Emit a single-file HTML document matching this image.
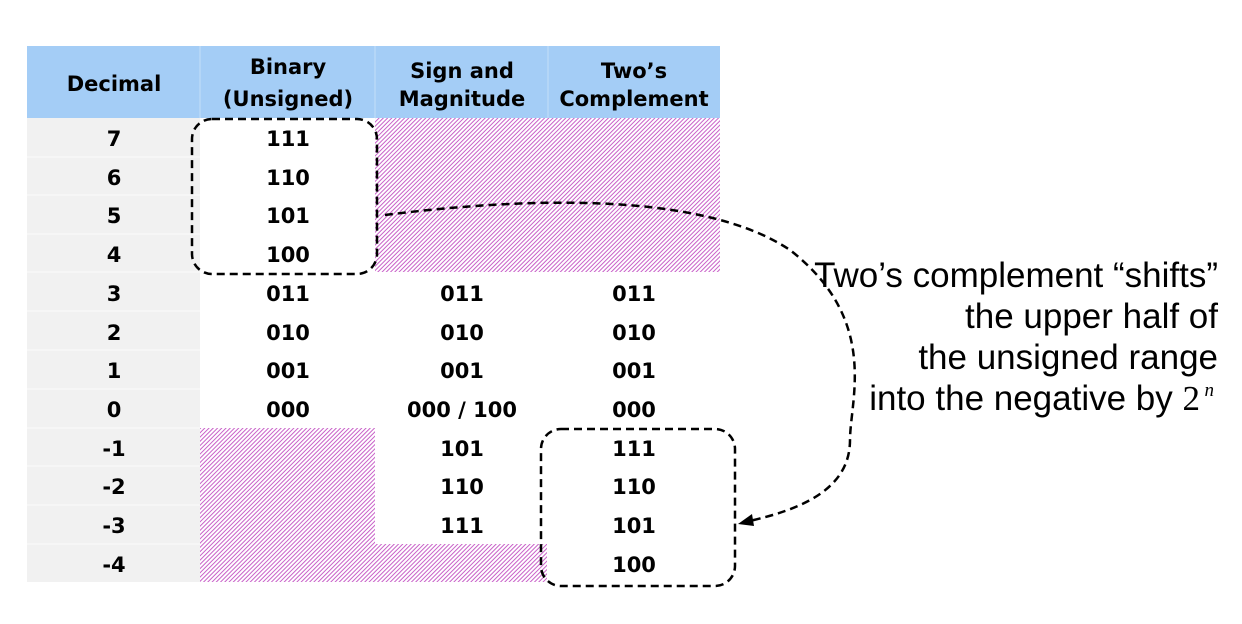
<!DOCTYPE html>
<html><head><style>
body{margin:0;width:1242px;height:624px;background:#fff;overflow:hidden;position:relative;font-family:"DejaVu Sans","Liberation Sans",sans-serif}
svg{position:absolute;left:0;top:0}
</style></head><body>
<svg width="1242" height="624" xmlns="http://www.w3.org/2000/svg">
<defs>
<pattern id="h" width="3" height="3" patternUnits="userSpaceOnUse" patternTransform="rotate(45)">
<rect width="3" height="3" fill="#fff"/>
<rect width="1" height="3" fill="#c860c8"/>
</pattern>
</defs>
<rect x="27" y="46" width="693" height="72" fill="#a4cdf6"/>
<line x1="200" y1="46" x2="200" y2="118" stroke="#c4def8" stroke-width="1"/>
<line x1="375" y1="46" x2="375" y2="118" stroke="#c4def8" stroke-width="1"/>
<line x1="548" y1="46" x2="548" y2="118" stroke="#c4def8" stroke-width="1"/>
<rect x="27" y="118" width="173" height="464" fill="#f1f1f1"/>
<g stroke="#fafafa" stroke-width="1">
<line x1="27" x2="200" y1="157" y2="157"/><line x1="27" x2="200" y1="195" y2="195"/>
<line x1="27" x2="200" y1="234" y2="234"/><line x1="27" x2="200" y1="272" y2="272"/>
<line x1="27" x2="200" y1="311" y2="311"/><line x1="27" x2="200" y1="350" y2="350"/>
<line x1="27" x2="200" y1="389" y2="389"/><line x1="27" x2="200" y1="428" y2="428"/>
<line x1="27" x2="200" y1="466" y2="466"/><line x1="27" x2="200" y1="505" y2="505"/>
<line x1="27" x2="200" y1="544" y2="544"/>
</g>
<rect x="375" y="118" width="345" height="154" fill="url(#h)"/>
<rect x="200" y="428" width="175" height="154" fill="url(#h)"/>
<rect x="375" y="544" width="172" height="38" fill="url(#h)"/>
<g font-family="DejaVu Sans, sans-serif" font-weight="bold" font-size="21" text-anchor="middle" fill="#000">
<text x="114" y="91">Decimal</text>
<text x="288" y="74">Binary</text><text x="288" y="106">(Unsigned)</text>
<text x="462" y="78">Sign and</text><text x="462" y="106">Magnitude</text>
<text x="634" y="78">Two’s</text><text x="634" y="106">Complement</text>
</g>
<g font-family="DejaVu Sans, sans-serif" font-weight="bold" font-size="21" text-anchor="middle" fill="#000">
<text x="114" y="146">7</text><text x="288" y="146">111</text>
<text x="114" y="185">6</text><text x="288" y="185">110</text>
<text x="114" y="223">5</text><text x="288" y="223">101</text>
<text x="114" y="262">4</text><text x="288" y="262">100</text>
<text x="114" y="301">3</text><text x="288" y="301">011</text><text x="462" y="301">011</text><text x="634" y="301">011</text>
<text x="114" y="340">2</text><text x="288" y="340">010</text><text x="462" y="340">010</text><text x="634" y="340">010</text>
<text x="114" y="378">1</text><text x="288" y="378">001</text><text x="462" y="378">001</text><text x="634" y="378">001</text>
<text x="114" y="417">0</text><text x="288" y="417">000</text><text x="462" y="417">000 / 100</text><text x="634" y="417">000</text>
<text x="114" y="456">-1</text><text x="462" y="456">101</text><text x="634" y="456">111</text>
<text x="114" y="494">-2</text><text x="462" y="494">110</text><text x="634" y="494">110</text>
<text x="114" y="533">-3</text><text x="462" y="533">111</text><text x="634" y="533">101</text>
<text x="114" y="572">-4</text><text x="634" y="572">100</text>
</g>
<g fill="none" stroke="#000" stroke-width="2.5" stroke-dasharray="8,5">
<rect x="192" y="119" width="185" height="155" rx="20"/>
<rect x="541" y="429" width="194" height="157" rx="20"/>
<path d="M385 215 C 520 198, 700 190, 790 250 C 880 320, 850 400, 850 440 C 850 490, 800 510, 745 522"/>
</g>
<polygon points="738,524 752,514 754,526" fill="#000"/>
<g font-family="Liberation Sans, Arial, sans-serif" font-size="35" text-anchor="end" fill="#000">
<text x="1218" y="287">Two’s complement  “shifts”</text>
<text x="1218" y="328">the upper half of</text>
<text x="1218" y="369">the unsigned range</text>
<text x="1200" y="410">into the negative by <tspan font-family="Liberation Serif, serif">2</tspan></text>
<text x="1214" y="396" font-size="19" font-style="italic" font-family="Liberation Serif, serif">n</text>
</g>
</svg>
</body></html>
